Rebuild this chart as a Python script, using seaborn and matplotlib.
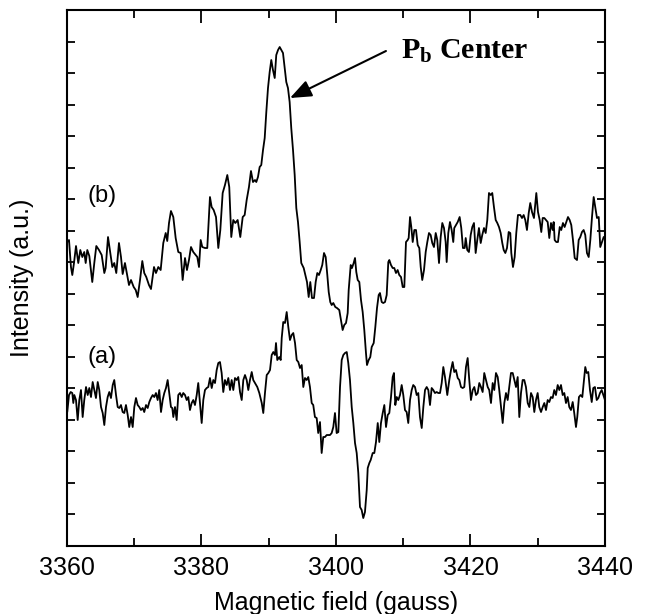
import numpy as np
import pandas as pd
import matplotlib
matplotlib.use("Agg")
import matplotlib.pyplot as plt
from matplotlib.ticker import MultipleLocator, FixedLocator
import seaborn as sns

# ---------------- data ----------------
# Magnetic field in gauss, intensity in arbitrary units (a.u.)
field_b = [3360.04, 3360.30, 3360.59, 3360.79, 3361.04, 3361.34, 3361.68, 3361.98, 3362.28, 3362.57,
           3362.78, 3363.02, 3363.32, 3363.76, 3364.06, 3364.36, 3364.76, 3365.16, 3365.55, 3365.75,
           3366.10, 3366.44, 3366.74, 3367.03, 3367.33, 3367.73, 3368.03, 3368.28, 3368.62, 3368.92,
           3369.22, 3369.52, 3369.92, 3370.22, 3370.51, 3370.86, 3371.20, 3371.49, 3371.79, 3372.19,
           3372.49, 3372.94, 3373.23, 3373.58, 3373.93, 3374.32, 3374.68, 3374.91, 3375.17, 3375.46,
           3375.81, 3376.16, 3376.55, 3376.91, 3377.20, 3377.55, 3377.84, 3378.14, 3378.44, 3378.78,
           3379.14, 3379.38, 3379.63, 3379.88, 3380.12, 3380.52, 3380.86, 3381.26, 3381.51, 3381.81,
           3382.16, 3382.50, 3382.80, 3383.15, 3383.49, 3383.84, 3384.13, 3384.43, 3384.73, 3385.03,
           3385.38, 3385.77, 3386.13, 3386.42, 3386.72, 3387.06, 3387.36, 3387.66, 3387.96, 3388.15,
           3388.40, 3388.65, 3388.89, 3389.15, 3389.40, 3389.64, 3389.89, 3390.14, 3390.38, 3390.63,
           3390.89, 3391.12, 3391.38, 3391.63, 3391.87, 3392.12, 3392.37, 3392.61, 3392.86, 3393.11,
           3393.35, 3393.61, 3393.86, 3394.10, 3394.35, 3394.60, 3394.84, 3395.20, 3395.44, 3395.69,
           3395.94, 3396.18, 3396.43, 3396.73, 3396.98, 3397.22, 3397.47, 3397.73, 3397.96, 3398.22,
           3398.47, 3398.71, 3398.92, 3399.15, 3399.36, 3399.60, 3399.90, 3400.15, 3400.49, 3400.74,
           3400.99, 3401.23, 3401.49, 3401.74, 3401.89, 3402.19, 3402.38, 3402.63, 3402.83, 3403.02,
           3403.23, 3403.47, 3403.72, 3403.97, 3404.21, 3404.46, 3404.61, 3404.86, 3405.10, 3405.31,
           3405.61, 3405.85, 3406.10, 3406.35, 3406.54, 3406.80, 3407.03, 3407.29, 3407.54, 3407.78,
           3407.93, 3408.18, 3408.43, 3408.67, 3408.92, 3409.17, 3409.41, 3409.67, 3409.92, 3410.16,
           3410.41, 3410.66, 3410.81, 3411.01, 3411.20, 3411.41, 3411.65, 3411.90, 3412.15, 3412.39,
           3412.60, 3412.83, 3413.09, 3413.34, 3413.58, 3413.83, 3414.08, 3414.32, 3414.57, 3414.83,
           3415.06, 3415.32, 3415.57, 3415.81, 3416.06, 3416.31, 3416.46, 3416.70, 3416.95, 3417.20,
           3417.44, 3417.59, 3417.84, 3418.10, 3418.39, 3418.63, 3418.88, 3419.14, 3419.29, 3419.52,
           3419.77, 3420.03, 3420.27, 3420.52, 3420.77, 3421.01, 3421.26, 3421.52, 3421.75, 3422.01,
           3422.26, 3422.50, 3422.75, 3423.01, 3423.24, 3423.49, 3423.75, 3423.99, 3424.24, 3424.49,
           3424.73, 3424.94, 3425.18, 3425.43, 3425.68, 3425.92, 3426.07, 3426.32, 3426.57, 3426.81,
           3427.06, 3427.41, 3427.66, 3427.91, 3428.15, 3428.40, 3428.66, 3428.89, 3429.15, 3429.44,
           3429.79, 3430.04, 3430.29, 3430.53, 3430.74, 3430.98, 3431.23, 3431.48, 3431.72, 3431.97,
           3432.22, 3432.37, 3432.52, 3432.76, 3433.01, 3433.27, 3433.50, 3433.75, 3434.00, 3434.25,
           3434.50, 3434.75, 3434.99, 3435.24, 3435.50, 3435.84, 3436.09, 3436.33, 3436.58, 3436.83,
           3437.07, 3437.32, 3437.58, 3437.82, 3438.07, 3438.32, 3438.56, 3438.81, 3439.07, 3439.30,
           3439.55, 3439.81, 3440.00]
intensity_b = [304, 306, 279, 271, 283, 300, 283, 296, 289, 294,
               283, 296, 290, 264, 283, 300, 296, 291, 273, 278,
               309, 293, 279, 283, 273, 303, 289, 272, 283, 272,
               261, 266, 259, 256, 249, 266, 285, 273, 269, 261,
               257, 279, 273, 279, 276, 303, 313, 305, 323, 335,
               329, 308, 294, 293, 266, 288, 276, 286, 299, 294,
               291, 289, 279, 306, 299, 298, 298, 349, 339, 336,
               329, 298, 316, 353, 361, 371, 359, 309, 326, 323,
               326, 309, 329, 331, 346, 359, 375, 364, 366, 364,
               369, 379, 381, 396, 408, 434, 458, 474, 486, 476,
               468, 491, 496, 499, 496, 493, 478, 464, 458, 444,
               418, 396, 371, 338, 324, 304, 283, 278, 271, 264,
               249, 264, 248, 248, 264, 273, 271, 276, 281, 293,
               289, 271, 254, 244, 241, 243, 239, 238, 236, 226,
               216, 221, 223, 233, 256, 281, 278, 283, 288, 274,
               266, 264, 246, 234, 216, 193, 181, 186, 189, 199,
               203, 219, 238, 251, 253, 244, 243, 244, 251, 284,
               286, 281, 278, 278, 273, 276, 271, 269, 259, 259,
               304, 306, 308, 329, 319, 304, 316, 316, 301, 298,
               279, 266, 276, 294, 304, 313, 311, 303, 299, 313,
               306, 283, 309, 323, 318, 304, 284, 313, 324, 316,
               304, 318, 321, 324, 329, 318, 298, 298, 308, 296,
               294, 311, 319, 323, 293, 306, 318, 303, 311, 318,
               313, 326, 353, 351, 353, 339, 326, 323, 319, 313,
               303, 296, 293, 298, 314, 313, 293, 279, 289, 313,
               331, 331, 328, 331, 326, 316, 333, 343, 334, 328,
               353, 334, 326, 314, 328, 328, 326, 324, 308, 323,
               316, 324, 306, 304, 304, 319, 316, 323, 319, 324,
               329, 326, 321, 306, 288, 286, 306, 309, 314, 316,
               311, 293, 289, 306, 329, 349, 339, 328, 329, 299,
               304, 309, 309]

field_a = [3360.04, 3360.30, 3360.55, 3360.79, 3360.94, 3361.09, 3361.34, 3361.59, 3361.83, 3362.08,
           3362.33, 3362.57, 3362.83, 3363.08, 3363.32, 3363.57, 3363.82, 3364.06, 3364.31, 3364.57,
           3364.80, 3365.06, 3365.31, 3365.55, 3365.80, 3366.05, 3366.29, 3366.54, 3366.80, 3367.03,
           3367.29, 3367.54, 3367.78, 3368.03, 3368.28, 3368.52, 3368.77, 3369.03, 3369.26, 3369.52,
           3369.77, 3370.01, 3370.26, 3370.51, 3370.75, 3371.00, 3371.26, 3371.49, 3371.75, 3372.00,
           3372.24, 3372.49, 3372.74, 3372.98, 3373.23, 3373.48, 3373.72, 3373.98, 3374.23, 3374.47,
           3374.72, 3374.97, 3375.21, 3375.46, 3375.66, 3375.81, 3376.06, 3376.31, 3376.55, 3376.80,
           3377.06, 3377.29, 3377.55, 3377.80, 3378.04, 3378.29, 3378.54, 3378.78, 3379.03, 3379.29,
           3379.52, 3379.78, 3380.03, 3380.27, 3380.52, 3380.77, 3381.01, 3381.26, 3381.52, 3381.76,
           3382.01, 3382.26, 3382.50, 3382.75, 3383.00, 3383.24, 3383.49, 3383.75, 3383.99, 3384.24,
           3384.49, 3384.73, 3384.98, 3385.23, 3385.47, 3385.73, 3385.98, 3386.22, 3386.47, 3386.72,
           3386.96, 3387.21, 3387.47, 3387.70, 3387.96, 3388.30, 3388.60, 3388.96, 3389.19, 3389.44,
           3389.70, 3389.94, 3390.19, 3390.44, 3390.68, 3390.93, 3391.08, 3391.27, 3391.57, 3391.78,
           3391.93, 3392.16, 3392.42, 3392.67, 3392.91, 3393.16, 3393.41, 3393.65, 3393.91, 3394.16,
           3394.40, 3394.65, 3394.90, 3395.14, 3395.39, 3395.64, 3395.88, 3396.13, 3396.39, 3396.62,
           3396.87, 3397.13, 3397.36, 3397.62, 3397.87, 3398.11, 3398.36, 3398.62, 3399.11, 3399.36,
           3399.60, 3399.85, 3400.10, 3400.35, 3400.60, 3400.85, 3401.09, 3401.34, 3401.60, 3401.83,
           3402.08, 3402.34, 3402.58, 3402.83, 3403.08, 3403.32, 3403.57, 3403.82, 3404.06, 3404.31,
           3404.57, 3404.72, 3404.96, 3405.16, 3405.46, 3405.70, 3405.95, 3406.21, 3406.44, 3406.69,
           3406.95, 3407.19, 3407.44, 3407.69, 3407.93, 3408.18, 3408.43, 3408.62, 3408.82, 3409.03,
           3409.27, 3409.52, 3409.77, 3410.01, 3410.26, 3410.51, 3410.75, 3411.01, 3411.26, 3411.49,
           3411.75, 3412.00, 3412.24, 3412.49, 3412.75, 3412.99, 3413.24, 3413.49, 3413.73, 3413.98,
           3414.23, 3414.47, 3414.72, 3414.98, 3415.21, 3415.47, 3415.72, 3415.96, 3416.21, 3416.55,
           3416.85, 3417.10, 3417.35, 3417.59, 3417.84, 3418.10, 3418.34, 3418.59, 3418.84, 3419.08,
           3419.33, 3419.58, 3419.82, 3420.07, 3420.33, 3420.57, 3420.82, 3421.07, 3421.31, 3421.56,
           3421.81, 3422.05, 3422.30, 3422.56, 3422.79, 3423.05, 3423.30, 3423.54, 3423.79, 3424.05,
           3424.28, 3424.54, 3424.79, 3425.03, 3425.28, 3425.53, 3425.77, 3426.02, 3426.28, 3426.52,
           3426.77, 3427.02, 3427.26, 3427.51, 3427.76, 3428.00, 3428.25, 3428.51, 3428.75, 3429.00,
           3429.25, 3429.49, 3429.74, 3429.99, 3430.23, 3430.49, 3430.74, 3430.98, 3431.23, 3431.48,
           3431.72, 3431.97, 3432.22, 3432.46, 3432.71, 3432.97, 3433.21, 3433.46, 3433.71, 3433.95,
           3434.20, 3434.45, 3434.69, 3434.94, 3435.20, 3435.43, 3435.69, 3435.88, 3436.13, 3436.38,
           3436.63, 3436.88, 3437.07, 3437.28, 3437.52, 3437.77, 3438.03, 3438.26, 3438.51, 3438.77,
           3439.01, 3439.26, 3439.51, 3439.76, 3440.00]
intensity_a = [134, 151, 154, 153, 143, 151, 146, 126, 146, 156,
               129, 146, 159, 151, 158, 149, 164, 156, 148, 164,
               156, 139, 133, 121, 139, 149, 154, 148, 161, 166,
               151, 139, 138, 141, 134, 133, 141, 131, 119, 129,
               119, 139, 148, 141, 139, 136, 138, 134, 141, 138,
               144, 148, 151, 149, 153, 146, 156, 134, 146, 153,
               158, 166, 153, 139, 138, 129, 139, 126, 151, 153,
               149, 153, 151, 146, 149, 136, 143, 146, 141, 151,
               163, 143, 123, 146, 156, 158, 159, 168, 158, 166,
               163, 176, 183, 184, 173, 154, 166, 161, 168, 156,
               166, 156, 168, 166, 169, 154, 146, 166, 171, 166,
               156, 166, 174, 166, 163, 159, 153, 143, 133, 153,
               171, 173, 176, 191, 194, 191, 203, 186, 189, 186,
               208, 224, 223, 234, 219, 206, 211, 213, 203, 186,
               184, 178, 181, 159, 168, 166, 169, 159, 143, 141,
               129, 128, 113, 124, 93, 109, 109, 111, 111, 113,
               119, 133, 113, 114, 159, 186, 191, 193, 194, 183,
               166, 139, 123, 103, 93, 73, 39, 36, 28, 34,
               56, 78, 83, 86, 93, 93, 104, 123, 104, 123,
               133, 141, 119, 131, 133, 149, 169, 173, 141, 149,
               146, 151, 161, 151, 136, 134, 123, 146, 156, 161,
               159, 151, 153, 129, 118, 139, 156, 159, 156, 141,
               158, 156, 153, 154, 153, 153, 163, 179, 169, 151,
               166, 176, 184, 174, 176, 168, 166, 159, 158, 159,
               179, 188, 166, 146, 156, 159, 151, 153, 163, 159,
               154, 173, 166, 159, 156, 143, 163, 156, 173, 169,
               156, 139, 123, 143, 153, 146, 159, 173, 173, 166,
               159, 169, 129, 153, 166, 166, 159, 143, 139, 153,
               149, 134, 146, 153, 139, 134, 139, 143, 136, 146,
               144, 149, 148, 156, 151, 161, 156, 161, 151, 153,
               143, 149, 139, 136, 144, 133, 119, 129, 149, 151,
               149, 166, 179, 173, 174, 156, 144, 158, 159, 146,
               148, 153, 156, 151, 146]

trace_labels = ["(b)", "(a)"]
label_pos = [(3365.2, 350), (3365.2, 189)]
annotation_text = r"$\mathbf{P_b}$ Center"
arrow_tip = (3393.16, 448)
arrow_tail = (3407.43, 495)
text_anchor = (3409.7, 487)
x_major = [3360, 3380, 3400, 3420, 3440]

# ---------------- figure ----------------
sns.set_style("ticks")
plt.rcParams["font.family"] = ["Liberation Sans", "DejaVu Sans"]
plt.rcParams["mathtext.fontset"] = "custom"
plt.rcParams["mathtext.rm"] = "Liberation Serif"
plt.rcParams["mathtext.bf"] = "Liberation Serif:bold"
for key in ["text.color", "axes.labelcolor", "xtick.color", "ytick.color", "axes.edgecolor"]:
    plt.rcParams[key] = "black"

fig = plt.figure(figsize=(6.51, 6.14), dpi=100)
ax = fig.add_axes([0.1029, 0.1107, 0.8264, 0.8730])

df_b = pd.DataFrame({"field": field_b, "intensity": intensity_b})
df_a = pd.DataFrame({"field": field_a, "intensity": intensity_a})
sns.lineplot(data=df_b, x="field", y="intensity", ax=ax, color="black",
             linewidth=1.3, sort=False, estimator=None)
sns.lineplot(data=df_a, x="field", y="intensity", ax=ax, color="black",
             linewidth=1.3, sort=False, estimator=None)

ax.set_xlim(3360, 3440)
ax.set_ylim(0, 536)
ax.xaxis.set_major_locator(FixedLocator(x_major))
ax.xaxis.set_minor_locator(MultipleLocator(10))
ax.yaxis.set_major_locator(FixedLocator([k * 536 / 17 for k in range(1, 17)]))
ax.set_yticklabels([])

ax.tick_params(axis="x", which="major", direction="in", length=9, width=1.3,
               top=True, bottom=True, labelsize=18, pad=7, colors="black")
ax.tick_params(axis="x", which="minor", direction="in", length=5.5, width=1.3,
               top=True, bottom=True)
ax.tick_params(axis="y", which="major", direction="in", length=5.5, width=1.3,
               left=True, right=True, labelleft=False)

for sp in ax.spines.values():
    sp.set_linewidth(1.5)
    sp.set_color("black")

ax.set_xlabel("Magnetic field (gauss)", fontsize=18, labelpad=8, color="black")
ax.set_ylabel("Intensity (a.u.)", fontsize=18, labelpad=24, color="black")

for txt, (gx, gy) in zip(trace_labels, label_pos):
    ax.text(gx, gy, txt, fontsize=17, ha="center", va="center", color="black")

ax.annotate("", xy=arrow_tip, xytext=arrow_tail,
            arrowprops=dict(arrowstyle="-|>,head_length=1.0,head_width=0.4",
                            color="black", lw=1.5, mutation_scale=13,
                            shrinkA=0, shrinkB=0))
ax.text(text_anchor[0], text_anchor[1], annotation_text, fontsize=21.5,
        fontfamily="Liberation Serif", fontweight="bold", ha="left", va="baseline",
        color="black")

fig.savefig("out.png", dpi=100)
